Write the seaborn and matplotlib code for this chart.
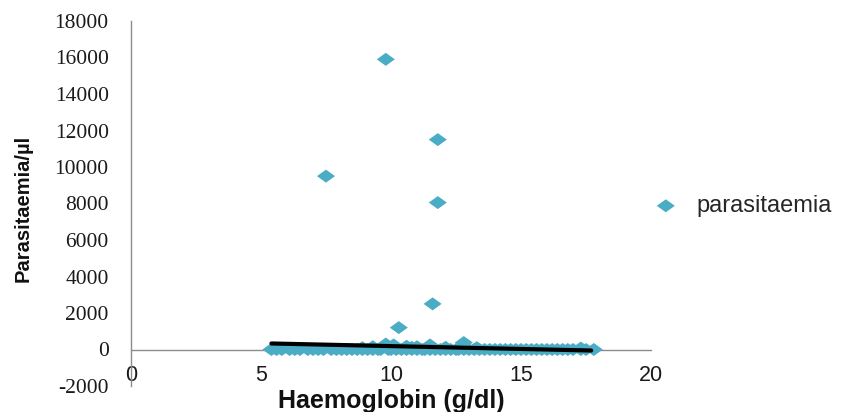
import matplotlib
matplotlib.use("Agg")
import matplotlib.pyplot as plt
import numpy as np
import pandas as pd
import seaborn as sns

# ---- data ----
hb_high = [9.8, 11.8, 7.5, 11.8, 11.6, 10.3]
para_high = [15900, 11500, 9500, 8050, 2500, 1200]

hb_low = [9.8, 10.1, 10.6, 11.0, 11.5, 12.1, 12.8, 13.3, 9.3, 8.9, 17.3, 10.8]
para_low = [300, 250, 180, 150, 250, 120, 380, 100, 150, 100, 80, 120]

hb_zero = [5.4, 5.6, 5.8, 6.1, 6.3, 6.5, 6.8, 7.0, 7.2, 7.4, 7.7, 7.9, 8.1,
           8.3, 8.5, 8.7, 8.9, 9.1, 9.3, 9.5, 9.6, 9.9, 10.0, 10.2, 10.4,
           10.6, 10.8, 11.0, 11.2, 11.3, 11.5, 11.7, 11.9, 12.1, 12.3, 12.5,
           12.6, 12.8, 13.0, 13.2, 13.4, 13.6, 13.8, 14.0, 14.2, 14.4, 14.6,
           14.8, 15.0, 15.2, 15.4, 15.6, 15.8, 16.0, 16.2, 16.4, 16.6, 16.8,
           17.0, 17.3, 17.5, 17.8]
para_zero = [0] * len(hb_zero)

trend_hb = [5.4, 17.7]
trend_para = [330, -55]

x_ticks = [0, 5, 10, 15, 20]
y_ticks = [-2000, 0, 2000, 4000, 6000, 8000, 10000, 12000, 14000, 16000, 18000]

series_name = "parasitaemia"
x_title = "Haemoglobin (g/dl)"
y_title = "Parasitaemia/µl"

# ---- plot ----
sns.set_style("white")
plt.rcParams["font.family"] = ["Liberation Sans", "DejaVu Sans"]

df = pd.DataFrame({
    "hb": hb_zero + hb_low + hb_high,
    "para": para_zero + para_low + para_high,
})

fig = plt.figure(figsize=(8.46, 4.12), dpi=100)
ax = fig.add_axes([131 / 846, 1 - 386 / 412, 520 / 846, 365 / 412])

diamond = [(-1, 0), (0, 0.72), (1, 0), (0, -0.72), (-1, 0)]
sns.scatterplot(data=df, x="hb", y="para", marker=diamond, s=169,
                color="#4bacc6", edgecolor="none", linewidth=0, ax=ax,
                label=series_name, zorder=3)
sns.lineplot(x=trend_hb, y=trend_para, color="black", linewidth=3,
             ax=ax, zorder=4, legend=False)

# spines first (set_position resets the ticks)
for s in ["top", "right"]:
    ax.spines[s].set_visible(False)
ax.spines["left"].set_position(("data", 0))
ax.spines["bottom"].set_position(("data", 0))
for s in ["left", "bottom"]:
    ax.spines[s].set_color("#8c8c8c")
    ax.spines[s].set_linewidth(1)
ax.grid(False)

ax.set_xlim(0, 20)
ax.set_ylim(-2000, 18000)
ax.set_xticks(x_ticks)
ax.set_yticks(y_ticks)
ax.set_xticklabels([str(v) for v in x_ticks], fontsize=15.5,
                   family="Liberation Sans", color="#1a1a1a")
ax.set_yticklabels([str(v) for v in y_ticks], fontsize=15.5,
                   family="Liberation Serif", color="#1a1a1a")
ax.tick_params(axis="both", length=0)
ax.tick_params(axis="x", pad=11)
ax.tick_params(axis="y", pad=16)

ax.set_xlabel(x_title, fontsize=18, fontweight="bold", color="#111111")
ax.set_ylabel(y_title, fontsize=14.5, fontweight="bold", color="#111111")
ax.xaxis.set_label_coords(0.5, (386 - 401) / 365)
ax.xaxis.label.set_va("center")
ax.yaxis.set_label_coords((23 - 131) / 520, (386 - 208) / 365)
ax.yaxis.label.set_va("center")
ax.yaxis.label.set_ha("center")

leg = ax.get_legend()
if leg is not None:
    leg.remove()
h, l = ax.get_legend_handles_labels()
fig.legend(h, l, loc="center left", bbox_to_anchor=(654 / 846, 1 - 206 / 412),
           frameon=False, fontsize=17, handlelength=1.0, handletextpad=0.8,
           borderpad=0, borderaxespad=0)

fig.savefig("out.png", dpi=100)
